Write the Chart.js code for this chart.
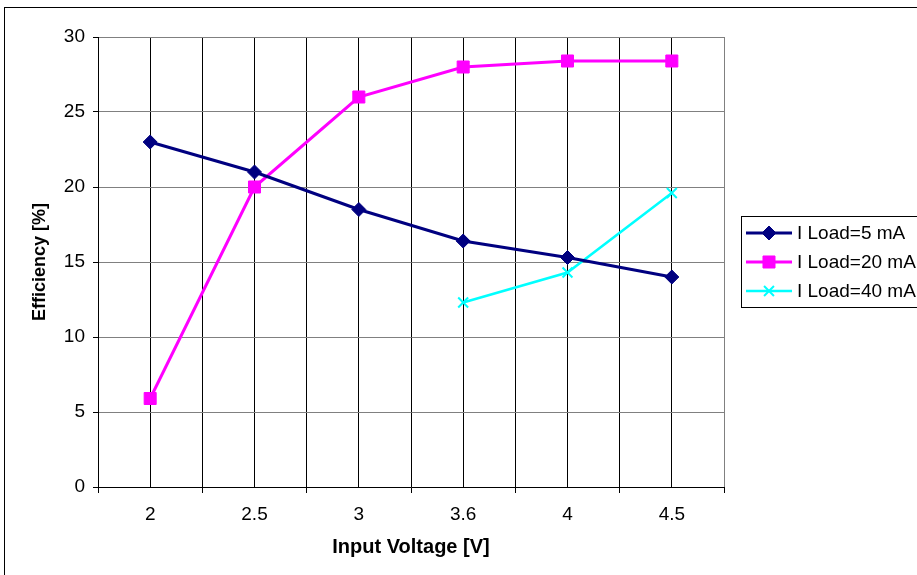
<!DOCTYPE html>
<html>
<head>
<meta charset="utf-8">
<script src="https://cdn.jsdelivr.net/npm/chart.js@4.4.1/dist/chart.umd.min.js"></script>
<style>
  html, body { margin: 0; padding: 0; background: #fff; }
  canvas { display: block; }
</style>
</head>
<body>
<canvas id="c" width="917" height="575"></canvas>
<script>
// данные
const voltages = ["2", "2.5", "3", "3.6", "4", "4.5"];
const load5 = [23, 21, 18.5, 16.4, 15.3, 14];
const load20 = [5.9, 20, 26, 28, 28.4, 28.4];
const load40 = [null, null, null, 12.3, 14.3, 19.6];
const seriesNames = ["I Load=5 mA", "I Load=20 mA", "I Load=40 mA"];
const yTicks = [0, 5, 10, 15, 20, 25, 30];

(function () {
  "use strict";

  const FONT = "'Liberation Sans', Arial, sans-serif";
  const PLOT = { left: 98, right: 724, top: 37, bottom: 487 };

  function toXY(arr) {
    return arr.map((v, i) => ({ x: i, y: v }));
  }

  // рамка вокруг всей диаграммы
  const frame = {
    id: "frame",
    afterDraw(chart) {
      const ctx = chart.ctx;
      ctx.save();
      ctx.strokeStyle = "#000";
      ctx.lineWidth = 1;
      ctx.strokeRect(4.5, 7.5, 1000, 1000);
      ctx.restore();
    },
  };

  // легенда в рамке: линия + маркер + подпись
  const boxLegend = {
    id: "boxLegend",
    afterDraw(chart) {
      const ctx = chart.ctx;
      const x0 = chart.chartArea.right + 17;
      const y0 = 216;
      ctx.save();
      ctx.fillStyle = "#fff";
      ctx.fillRect(x0 + 0.5, y0 + 0.5, 400, 91);
      ctx.strokeStyle = "#000";
      ctx.lineWidth = 1;
      ctx.strokeRect(x0 + 0.5, y0 + 0.5, 400, 91);
      chart.data.datasets.forEach((ds, i) => {
        const cy = y0 + 17 + i * 29;
        ctx.strokeStyle = ds.borderColor;
        ctx.lineWidth = ds.borderWidth;
        ctx.beginPath();
        ctx.moveTo(x0 + 5, cy);
        ctx.lineTo(x0 + 51, cy);
        ctx.stroke();
        ctx.fillStyle = ds.pointBackgroundColor;
        ctx.strokeStyle = ds.pointBorderColor;
        ctx.lineWidth = ds.pointBorderWidth;
        Chart.helpers.drawPoint(
          ctx,
          { pointStyle: ds.pointStyle, radius: ds.pointRadius, rotation: 0, borderWidth: ds.pointBorderWidth },
          x0 + 28,
          cy
        );
        ctx.fillStyle = "#000";
        ctx.font = "19px " + FONT;
        ctx.textBaseline = "middle";
        ctx.textAlign = "left";
        ctx.fillText(ds.label, x0 + 56, cy + 1);
      });
      ctx.restore();
    },
  };

  new Chart(document.getElementById("c"), {
    type: "line",
    data: {
      datasets: [
        {
          label: seriesNames[0],
          data: toXY(load5),
          borderColor: "#000080",
          borderWidth: 3,
          pointStyle: "rectRot",
          pointRadius: 7,
          pointBackgroundColor: "#000080",
          pointBorderColor: "#000080",
          pointBorderWidth: 1,
        },
        {
          label: seriesNames[1],
          data: toXY(load20),
          borderColor: "#ff00ff",
          borderWidth: 3,
          pointStyle: "rect",
          pointRadius: 8.5,
          pointBackgroundColor: "#ff00ff",
          pointBorderColor: "#ff00ff",
          pointBorderWidth: 1,
        },
        {
          label: seriesNames[2],
          data: toXY(load40),
          borderColor: "#00ffff",
          borderWidth: 2.5,
          pointStyle: "crossRot",
          pointRadius: 7,
          pointBackgroundColor: "#00ffff",
          pointBorderColor: "#00ffff",
          pointBorderWidth: 2,
        },
      ],
    },
    options: {
      responsive: false,
      animation: false,
      devicePixelRatio: 1,
      layout: {
        padding: { left: 0, top: PLOT.top, right: 917 - PLOT.right, bottom: 0 },
      },
      plugins: {
        legend: { display: false },
        tooltip: { enabled: false },
      },
      scales: {
        x: {
          type: "linear",
          min: -0.5,
          max: voltages.length - 0.5,
          afterFit(scale) {
            scale.height = 575 - PLOT.bottom;
          },
          afterBuildTicks(scale) {
            const t = [];
            for (let i = 0; i <= voltages.length * 2; i++) t.push({ value: -0.5 + i * 0.5 });
            scale.ticks = t;
          },
          border: { display: true, color: "#000", width: 1 },
          grid: {
            color(ctx) {
              const v = ctx.tick && ctx.tick.value;
              return v === voltages.length - 0.5 ? "#808080" : "#000";
            },
            tickColor(ctx) {
              const v = ctx.tick && ctx.tick.value;
              return Number.isInteger(v) ? "rgba(0,0,0,0)" : "#000";
            },
            tickLength: 6,
          },
          ticks: {
            autoSkip: false,
            maxRotation: 0,
            padding: 10,
            color: "#000",
            font: { family: FONT, size: 19 },
            callback(v) {
              return Number.isInteger(v) ? voltages[v] : "";
            },
          },
          title: {
            display: true,
            text: "Input Voltage [V]",
            color: "#000",
            font: { family: FONT, size: 20, weight: "bold" },
            padding: { top: 0, bottom: 16 },
          },
        },
        y: {
          min: 0,
          max: 30,
          afterFit(scale) {
            scale.width = PLOT.left;
          },
          afterBuildTicks(scale) {
            scale.ticks = yTicks.map((v) => ({ value: v }));
          },
          border: { display: true, color: "#000", width: 1 },
          grid: {
            color: "#808080",
            tickColor: "#000",
            tickLength: 5,
          },
          ticks: {
            padding: 8,
            color: "#000",
            font: { family: FONT, size: 19 },
          },
          title: {
            display: true,
            text: "Efficiency [%]",
            color: "#000",
            font: { family: FONT, size: 18, weight: "bold" },
            padding: { top: 29, bottom: 0 },
          },
        },
      },
    },
    plugins: [frame, boxLegend],
  });
})();
</script>
</body>
</html>
